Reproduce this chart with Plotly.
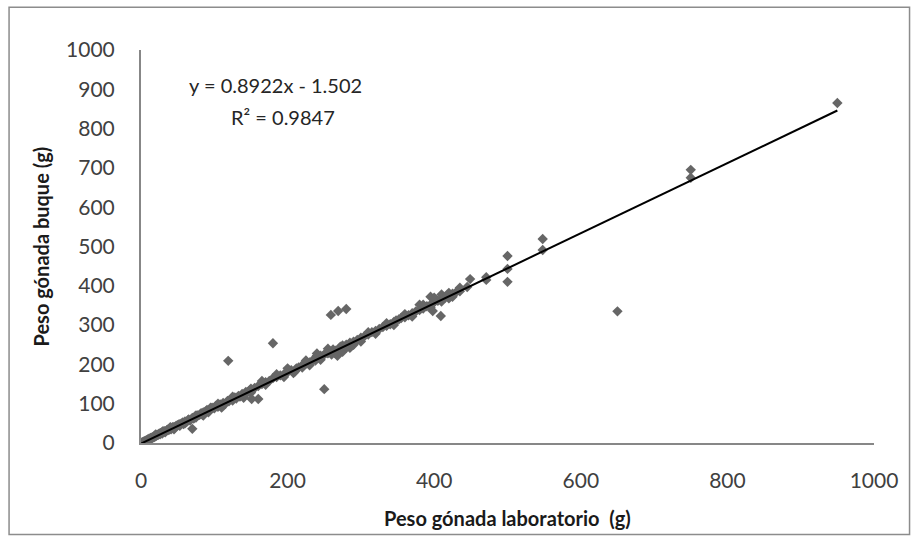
import plotly.graph_objects as go

# Data (Peso gónada laboratorio vs buque, g)
lab = [0,1,2,3,4,5,6,7,8,9,10,11,12,13,14,15,16,17,18,19,20,21,22,23,24,25,26,27,28,29,30,
       32,33,35,36,38,40,41,43,45,46,48,50,52,53,55,57,58,60,62,64,65,67,70,72,74,75,77,80,82,84,85,
       88,90,92,95,97,100,102,105,108,110,112,115,118,120,123,125,128,130,133,135,138,140,143,145,148,
       150,155,160,165,170,175,180,185,190,195,200,205,208,212,215,220,225,230,235,238,240,242,245,
       250,253,255,255,258,262,265,265,270,272,275,275,280,285,285,290,295,300,305,310,315,320,325,330,
       335,340,345,348,352,355,360,365,370,375,380,380,385,390,395,395,398,400,400,405,410,410,415,420,
       420,425,430,435,445,449,471,471,500,500,500,548,548,750,750,950,
       105,110,125,140,150,165,170,185,195,200,210,220,225,230,240,245,260,268,280,290,300,310,320,335,
       345,360,370,385,395,410,425,420,435,60,75,85,95,45,30,20,40,
       119,180,250,70,160,151,259,269,280,398,409,650]
buque = [0,1,2,2,4,4,6,5,7,9,8,11,10,13,11,14,13,16,15,18,17,19,21,20,22,24,22,25,27,24,28,
         30,27,32,34,33,37,35,40,41,38,44,45,48,44,50,52,48,55,53,58,60,57,64,62,68,65,70,72,76,72,78,
         80,84,78,86,90,88,94,92,98,96,102,100,107,106,112,108,116,113,120,118,125,122,130,128,134,
         138,140,145,150,155,158,165,168,172,175,180,185,178,190,192,198,202,205,212,210,228,218,222,
         225,230,228,240,232,238,235,228,240,245,248,232,250,255,242,258,262,268,272,276,282,285,290,295,
         298,302,308,312,315,318,320,325,330,335,338,352,342,348,352,372,356,358,370,362,366,378,370,375,
         382,380,384,386,397,417,422,415,476,443,410,519,491,695,675,865,
         100,90,118,115,128,158,148,175,168,190,182,192,210,198,222,212,225,222,242,250,258,282,278,305,
         300,328,322,352,345,360,372,368,395,50,70,70,90,35,30,22,40,
         209,254,137,36,112,112,326,336,341,336,323,335]

slope = 0.8922
intercept = -1.502
r2 = 0.9847

x_ticks = [0, 200, 400, 600, 800, 1000]
y_ticks = [0, 100, 200, 300, 400, 500, 600, 700, 800, 900, 1000]

FONT = "Lato"

fig = go.Figure()
fig.add_trace(go.Scatter(
    x=lab, y=buque, mode="markers",
    marker=dict(symbol="diamond", size=8, color="#666666", line=dict(width=0)),
    showlegend=False, hoverinfo="x+y"))

xmin, xmax = min(lab), max(lab)
fig.add_trace(go.Scatter(
    x=[xmin, xmax], y=[slope * xmin + intercept, slope * xmax + intercept],
    mode="lines", line=dict(color="black", width=2), showlegend=False, hoverinfo="skip"))

fig.update_layout(
    width=917, height=539,
    margin=dict(l=141, r=43, t=50, b=96),
    paper_bgcolor="white", plot_bgcolor="white",
    font=dict(family=FONT, size=20, color="#404040"),
    xaxis=dict(range=[0, 1000], tickvals=x_ticks, showgrid=False, zeroline=False,
               showline=True, linecolor="#878787", linewidth=2,
               ticks="outside", ticklen=18, tickcolor="rgba(0,0,0,0)",
               tickfont=dict(family=FONT, size=21, color="#404040")),
    yaxis=dict(range=[0, 1000], tickvals=y_ticks, showgrid=False, zeroline=False,
               showline=True, linecolor="#878787", linewidth=2,
               ticks="outside", ticklen=20, tickcolor="rgba(0,0,0,0)",
               tickfont=dict(family=FONT, size=21, color="#404040")),
    shapes=[dict(type="rect", xref="paper", yref="paper",
                 x0=-0.180, x1=1.0485, y0=-0.233, y1=1.109,
                 line=dict(color="#8c8c8c", width=1.5), fillcolor="rgba(0,0,0,0)", layer="below")],
    annotations=[
        dict(text="<b>Peso gónada laboratorio  (g)</b>", xref="paper", yref="paper",
             x=(507 - 141) / 733, y=(443 - 518) / 393, showarrow=False,
             xanchor="center", yanchor="middle",
             font=dict(family=FONT, size=20, color="#1a1a1a")),
        dict(text="<b>Peso gónada buque (g)</b>", xref="paper", yref="paper",
             x=(40 - 141) / 733, y=0.5, showarrow=False, textangle=-90,
             xanchor="center", yanchor="middle",
             font=dict(family=FONT, size=20, color="#1a1a1a")),
        dict(text="y = 0.8922x - 1.502", xref="paper", yref="paper",
             x=(187 - 141) / 733, y=(443 - 85) / 393, showarrow=False,
             xanchor="left", yanchor="middle",
             font=dict(family=FONT, size=20, color="#262626")),
        dict(text="R² = 0.9847", xref="paper", yref="paper",
             x=(229 - 141) / 733, y=(443 - 117) / 393, showarrow=False,
             xanchor="left", yanchor="middle",
             font=dict(family=FONT, size=20, color="#262626")),
    ],
)

fig.write_html("out.html")
